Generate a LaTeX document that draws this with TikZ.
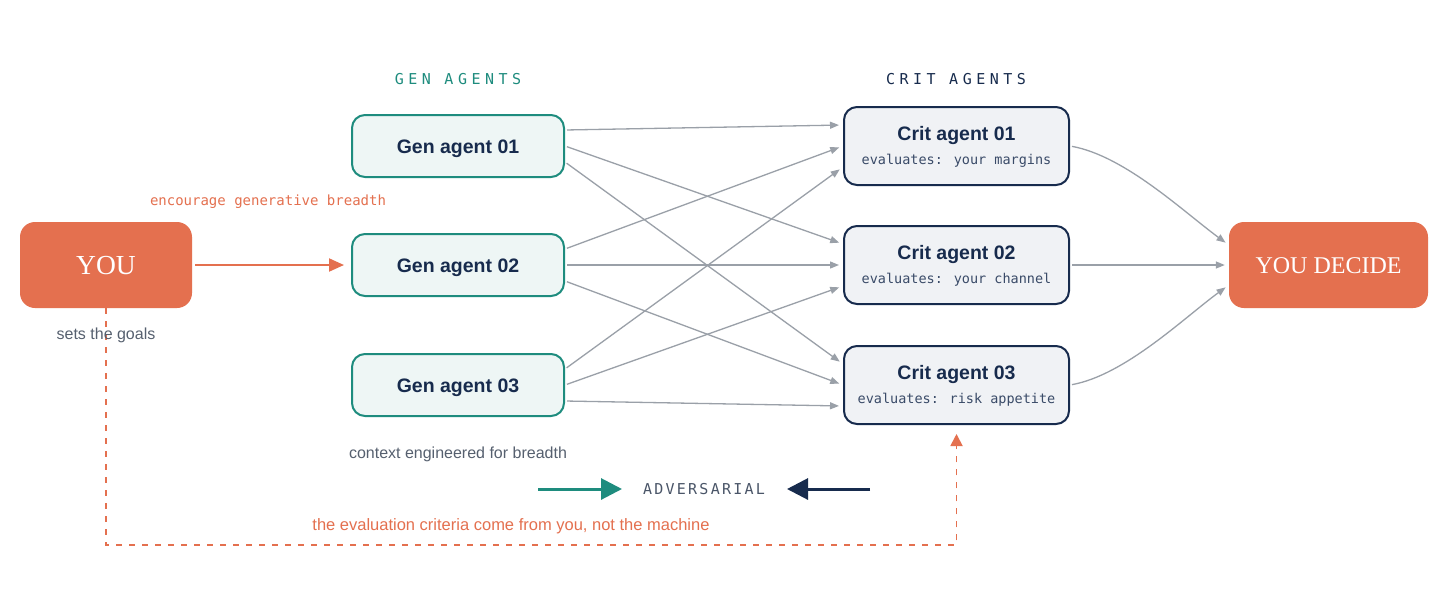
\documentclass[tikz,border=0pt]{standalone}
\usepackage{fontspec}
\setmainfont{Liberation Sans}
\newfontfamily\serifF{Liberation Serif}
\newfontfamily\monoF{DejaVu Sans Mono}
\newfontfamily\monoS[LetterSpace=30]{DejaVu Sans Mono}
\newfontfamily\monoA[LetterSpace=15]{DejaVu Sans Mono}
\usetikzlibrary{arrows.meta,calc}
\definecolor{accent}{HTML}{E4704F}
\definecolor{genteal}{HTML}{1E8C7E}
\definecolor{navy}{HTML}{172B4D}
\definecolor{genfill}{HTML}{EEF6F5}
\definecolor{critfill}{HTML}{F0F2F5}
\definecolor{linegray}{HTML}{9AA0A8}
\definecolor{txtgray}{HTML}{56606F}
\definecolor{advgray}{HTML}{4A5568}
\tikzset{
  youbox/.style={fill=accent, draw=none, rounded corners=15pt, text=white},
  genbox/.style={fill=genfill, draw=genteal, line width=2pt, rounded corners=13pt, minimum width=212pt, minimum height=62pt, text=navy, font=\fontsize{19.5}{23}\selectfont\bfseries, text height=14pt, text depth=0pt},
  critbox/.style={fill=critfill, draw=navy, line width=2pt, rounded corners=13pt, minimum width=225pt, minimum height=78pt},
  crittitle/.style={text=navy, font=\fontsize{19.5}{23}\selectfont\bfseries, inner sep=0pt, anchor=base},
  critsub/.style={text=navy!85!white, font=\monoF\fontsize{13.5}{16}\selectfont, inner sep=0pt, anchor=base},
  headlabel/.style={font=\monoS\fontsize{15}{17}\selectfont, inner sep=0pt},
  graytext/.style={text=txtgray, font=\fontsize{16}{19}\selectfont, inner sep=0pt},
  garrow/.style={draw=linegray, line width=1.3pt, -{Triangle[length=9pt,width=7pt]}, shorten <=2pt, shorten >=4pt},
  oarrow/.style={draw=accent, line width=2pt, -{Triangle[length=15pt,width=13pt]}},
  dashline/.style={draw=accent, line width=1.8pt, dash pattern=on 6pt off 7pt, -{Triangle[length=12pt,width=12pt]}},
}
\begin{document}
\begin{tikzpicture}[x=1pt,y=1pt]
\fill[white] (0,0) rectangle (1456,-590);
\useasboundingbox (0,0) rectangle (1456,-590);

\node[youbox, minimum width=172pt, minimum height=86pt, font=\serifF\fontsize{27.5}{30}\selectfont, text height=18pt, text depth=0pt] (you) at (106,-265) {YOU};
\node[critbox] (crit1) at (956.5,-146) {};
\node[critbox] (crit2) at (956.5,-265) {};
\node[critbox] (crit3) at (956.5,-385) {};
\draw[dashline] (you.south) |- ($(crit3.south)+(0,-120)$) -- ([yshift=-9pt]crit3.south);

\node[genbox] (gen1) at (458,-146) {Gen agent 01};
\node[genbox] (gen2) at (458,-265) {Gen agent 02};
\node[genbox] (gen3) at (458,-385) {Gen agent 03};

\node[crittitle] (crit1t) at ($(crit1.center)+(0,5.3)$) {Crit agent 01};
\node[critsub] (crit1s) at ($(crit1.center)+(0,-18.3)$) {evaluates: your margins};
\node[crittitle] (crit2t) at ($(crit2.center)+(0,5.3)$) {Crit agent 02};
\node[critsub] (crit2s) at ($(crit2.center)+(0,-18.3)$) {evaluates: your channel};
\node[crittitle] (crit3t) at ($(crit3.center)+(0,5.3)$) {Crit agent 03};
\node[critsub] (crit3s) at ($(crit3.center)+(0,-18.3)$) {evaluates: risk appetite};

\node[youbox, minimum width=199pt, minimum height=86pt, font=\serifF\fontsize{24}{28}\selectfont, text height=16pt, text depth=0pt] (decide) at (1328.5,-265) {YOU DECIDE};

\node[headlabel, text=genteal] (genhead) at (458,-79) {GEN AGENTS};
\node[headlabel, text=navy] (crithead) at (956,-79) {CRIT AGENTS};

\node[text=accent, font=\monoF\fontsize{14}{16}\selectfont, inner sep=0pt] (enc) at (268,-202) {encourage generative breadth};
\node[graytext] (sets) at (106,-335) {sets the goals};
\node[graytext] (ctx) at (458,-454) {context engineered for breadth};
\node[text=accent, font=\fontsize{16.5}{19}\selectfont, inner sep=0pt] (crmsg) at (511,-526) {the evaluation criteria come from you, not the machine};

% you -> gen2
\draw[oarrow, shorten <=3pt, shorten >=7pt] (you.east) -- (gen2.west);

% gen -> crit
\foreach \i in {1,2,3}{
  \foreach \j in {1,2,3}{
    \draw[garrow] ([yshift={(2-\j)*16pt}]gen\i.east) -- ([yshift={(2-\i)*21pt}]crit\j.west);
  }
}

% crit -> decide
\draw[garrow] (crit1.east) .. controls +(55,-10) and +(-45,33) .. ([yshift=20pt]decide.west);
\draw[garrow] (crit2.east) -- (decide.west);
\draw[garrow] (crit3.east) .. controls +(55,10) and +(-45,-33) .. ([yshift=-20pt]decide.west);

% adversarial
\node[text=advgray, font=\monoA\fontsize{15}{17}\selectfont, inner sep=0pt] (adv) at (704,-489) {ADVERSARIAL};
\coordinate (tealstart) at (538,-489);
\coordinate (tealend) at (622,-489);
\coordinate (navystart) at (870,-489);
\coordinate (navyend) at (787,-489);
\draw[draw=genteal, line width=3pt, -{Triangle[length=21pt,width=21pt]}, color=genteal] (tealstart) -- (tealend);
\draw[draw=navy, line width=3pt, -{Triangle[length=21pt,width=21pt]}, color=navy] (navystart) -- (navyend);
\end{tikzpicture}
\end{document}
